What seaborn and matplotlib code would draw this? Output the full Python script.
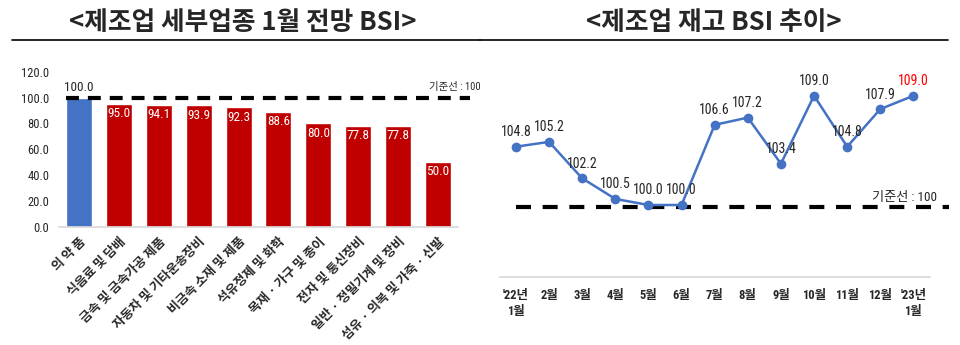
import matplotlib
matplotlib.use("Agg")
import matplotlib.pyplot as plt
import matplotlib.font_manager as fm
import seaborn as sns
import pandas as pd
from matplotlib.lines import Line2D

# Left panel: January outlook BSI by manufacturing sub-sector
sectors = ["의 약 품", "식음료 및 담배", "금속 및 금속가공 제품", "자동차 및 기타운송장비",
           "비금속 소재 및 제품", "석유정제 및 화학", "목재 · 가구 및 종이",
           "전자 및 통신장비", "일반 · 정밀기계 및 장비", "섬유 · 의복 및 가죽 · 신발"]
outlook_bsi = [100.0, 95.0, 94.1, 93.9, 92.3, 88.6, 80.0, 77.8, 77.8, 50.0]
bar_colors = ["#4472C4"] + ["#C00000"] * 9

# Right panel: manufacturing inventory BSI trend
months = ["'22년\n1월", "2월", "3월", "4월", "5월", "6월", "7월", "8월", "9월",
          "10월", "11월", "12월", "'23년\n1월"]
inventory_bsi = [104.8, 105.2, 102.2, 100.5, 100.0, 100.0, 106.6, 107.2, 103.4,
                 109.0, 104.8, 107.9, 109.0]

baseline = 100
left_title = "<제조업 세부업종 1월 전망 BSI>"
right_title = "<제조업 재고 BSI 추이>"
baseline_label = "기준선 : 100"

sns.set_theme(style="white")

# pick a narrow latin face for numbers if one is installed
installed = {f.name for f in fm.fontManager.ttflist}
narrow = next((n for n in ["Liberation Sans Narrow", "Arial Narrow", "Roboto Condensed",
                           "Open Sans Condensed", "Liberation Sans"] if n in installed),
              "DejaVu Sans")
KR = "Noto Sans CJK KR"
NUM = [narrow, KR, "DejaVu Sans"]
plt.rcParams["font.family"] = NUM
plt.rcParams["axes.unicode_minus"] = False

W, H = 960, 345
fig = plt.figure(figsize=(W / 100, H / 100), dpi=100)


def px_axes(x0, y0, x1, y1):
    return fig.add_axes([x0 / W, 1 - y1 / H, (x1 - x0) / W, (y1 - y0) / H])


# Titles with underline rules
fig.text(243 / W, 1 - 23 / H, left_title, ha="center", va="center", fontsize=18.5,
         fontweight="bold", family=[KR, "DejaVu Sans"])
fig.text(714 / W, 1 - 23 / H, right_title, ha="center", va="center", fontsize=18.5,
         fontweight="bold", family=[KR, "DejaVu Sans"])
fig.add_artist(Line2D([12 / W, 480 / W], [1 - 39.5 / H] * 2, color="black", lw=1.2))
fig.add_artist(Line2D([480 / W, 948 / W], [1 - 39.5 / H] * 2, color="black", lw=1.2))

# ---- Bar chart ----
ax1 = px_axes(59, 71.7, 458, 226.7)
df_bar = pd.DataFrame({"sector": sectors, "bsi": outlook_bsi})
sns.barplot(data=df_bar, x="sector", y="bsi", hue="sector", palette=bar_colors,
            legend=False, width=0.65, ax=ax1, saturation=1)
ax1.set_xlim(-0.5, len(sectors) - 0.5)
ax1.set_ylim(0, 120)
ax1.set_yticks(range(0, 121, 20))
ax1.set_yticklabels([f"{v:.1f}" for v in range(0, 121, 20)], fontsize=9, color="#262626")
ax1.set_xlabel("")
ax1.set_ylabel("")
ax1.set_xticks(range(len(sectors)))
ax1.set_xticklabels(sectors, rotation=45, ha="right", va="top", rotation_mode="anchor",
                    fontsize=9.2, fontweight="bold", color="#262626",
                    family=[KR, "DejaVu Sans"])
ax1.tick_params(axis="x", length=0, pad=6)
ax1.tick_params(axis="y", length=0, pad=7)
for s in ["top", "right", "left"]:
    ax1.spines[s].set_visible(False)
ax1.spines["bottom"].set_color("#d9d9d9")

for i, v in enumerate(outlook_bsi):
    if i == 0:
        ax1.text(i, v + 2.5, f"{v:.1f}", ha="center", va="bottom", fontsize=9.5,
                 color="#262626")
    else:
        ax1.text(i, v - 7.5, f"{v:.1f}", ha="center", va="center", fontsize=9.5,
                 color="white")

ax1.plot([-0.33, 9.8], [baseline, baseline], color="black", lw=3,
         dashes=(3.1, 2.15), clip_on=False, zorder=5)
ax1.text(9.42, baseline + 4, baseline_label, ha="center", va="bottom", fontsize=7.5,
         color="#262626")

# ---- Line chart ----
ax2 = px_axes(500, 59.3, 930, 277)
df_line = pd.DataFrame({"pos": range(len(months)), "bsi": inventory_bsi})
ax2.plot([0, 13.06], [99.8, 99.8], color="black", lw=3, dashes=(3.6, 2.8),
         clip_on=False, zorder=1)
sns.lineplot(data=df_line, x="pos", y="bsi", color="#4472C4", lw=1.8, marker="o",
             markersize=7, markeredgewidth=0, ax=ax2, zorder=3)
ax2.set_xlim(-0.48, 12.5)
ax2.set_ylim(94.07, 112)
ax2.set_xticks(range(len(months)))
ax2.set_xticklabels(months, fontsize=9, fontweight="bold", color="#262626",
                    linespacing=1.25)
ax2.tick_params(axis="x", length=0, pad=9)
ax2.set_yticks([])
ax2.set_xlabel("")
ax2.set_ylabel("")
for s in ["top", "right", "left"]:
    ax2.spines[s].set_visible(False)
ax2.spines["bottom"].set_color("#d9d9d9")

for i, v in enumerate(inventory_bsi):
    c = "#FF0000" if i == len(inventory_bsi) - 1 else "#262626"
    ax2.text(i, v + 1.2, f"{v:.1f}", ha="center", va="center", fontsize=10, color=c)

ax2.text(11.72, 100.65, baseline_label, ha="center", va="center", fontsize=9.5,
         color="#262626")

fig.savefig("out.png", dpi=100, facecolor="white")
